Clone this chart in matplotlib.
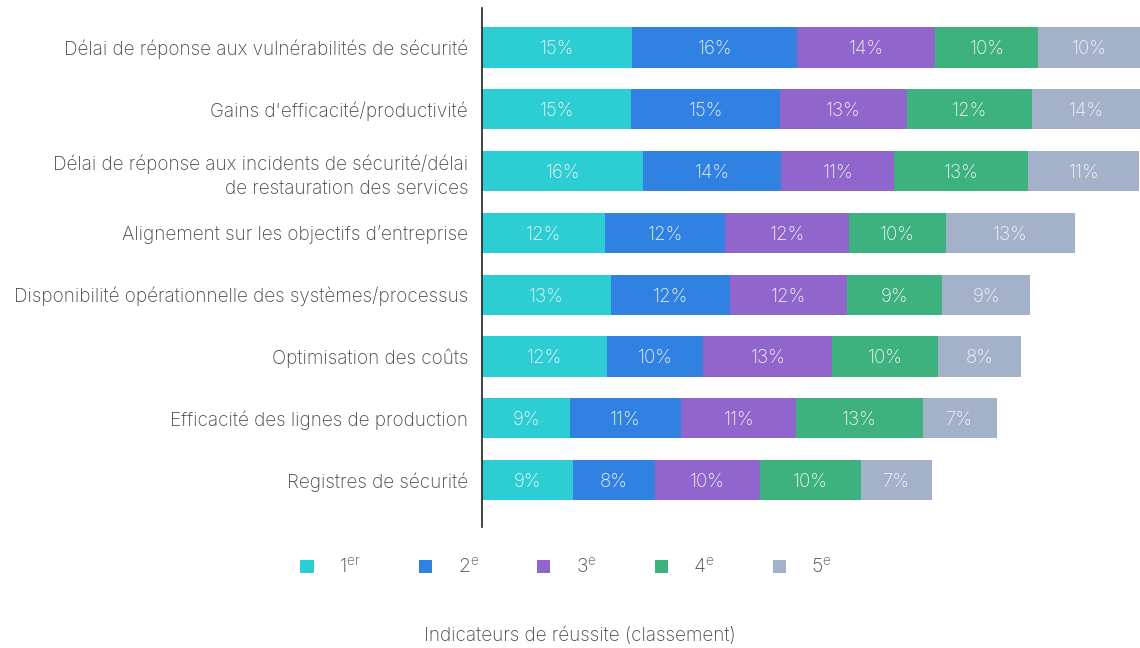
import matplotlib
matplotlib.use("Agg")
import matplotlib.pyplot as plt
import numpy as np

plt.rcParams['font.family'] = ['Inter', 'DejaVu Sans']
plt.rcParams['font.weight'] = 'light'
plt.rcParams['mathtext.fontset'] = 'custom'
plt.rcParams['mathtext.rm'] = 'Inter:light'
plt.rcParams['mathtext.it'] = 'Inter:light'

categories = [
    "Délai de réponse aux vulnérabilités de sécurité",
    "Gains d'efficacité/productivité",
    "Délai de réponse aux incidents de sécurité/délai\nde restauration des services",
    "Alignement sur les objectifs d’entreprise",
    "Disponibilité opérationnelle des systèmes/processus",
    "Optimisation des coûts",
    "Efficacité des lignes de production",
    "Registres de sécurité",
]
rank1 = [14.85, 14.77, 15.96, 12.19, 12.78, 12.40, 8.72, 9.01]
rank2 = [16.38, 14.76, 13.66, 11.89, 11.80, 9.52, 11.00, 8.13]
rank3 = [13.66, 12.55, 11.20, 12.27, 11.59, 12.77, 11.38, 10.40]
rank4 = [10.20, 12.36, 13.25, 9.60, 9.40, 10.45, 12.55, 9.99]
rank5 = [10.40, 13.80, 11.00, 12.78, 8.71, 8.22, 7.32, 7.06]
series = [rank1, rank2, rank3, rank4, rank5]
legend_labels = [r"1$^{\mathrm{er}}$", r"2$^{\mathrm{e}}$", r"3$^{\mathrm{e}}$",
                 r"4$^{\mathrm{e}}$", r"5$^{\mathrm{e}}$"]
colors = ["#2DCDD4", "#3081E2", "#9066CC", "#3DB27E", "#A3B2C8"]
xlabel = "Indicateurs de réussite (classement)"

fig = plt.figure(figsize=(11.4, 6.48), dpi=100)
ax = fig.add_axes([482/1140, 1 - 527/648, 1 - 482/1140, (527 - 8)/648])

xmax = 658 / 10.1
y = np.arange(len(categories))
left = np.zeros(len(categories))
handles = []
for vals, col, lab in zip(series, colors, legend_labels):
    vals = np.array(vals)
    bars = ax.barh(y, vals, left=left, height=0.65, color=col, label=lab, edgecolor='none')
    handles.append(bars)
    for yi, l, v in zip(y, left, vals):
        xc = (l + min(l + v, xmax)) / 2
        ax.text(xc, yi, f"{int(np.floor(v + 0.5))}%", ha='center', va='center_baseline',
                color='#F0F4FA', fontsize=13.5, fontweight='light')
    left = left + vals

ax.set_xlim(0, xmax)
ax.set_ylim(7 + 47 / 61.8, -39.5 / 61.8)
ax.set_yticks(y)
ax.set_yticklabels(categories, fontsize=13.6, color='#484848', fontweight='light')
ax.tick_params(axis='y', length=0, pad=10)
ax.set_xticks([])
for s in ['top', 'right', 'bottom']:
    ax.spines[s].set_visible(False)
ax.spines['left'].set_color('#222222')
ax.spines['left'].set_linewidth(1.2)
for t in ax.get_yticklabels():
    t.set_multialignment('right')
    t.set_linespacing(1.4)

leg = fig.legend(handles=handles, labels=legend_labels, loc='center',
                 bbox_to_anchor=(566/1140, 1 - 567/648), ncol=5, frameon=False,
                 fontsize=14, handlelength=0.68, handleheight=0.68,
                 handletextpad=1.3, columnspacing=3.0, labelcolor='#484848')

fig.text(580/1140, 1 - 636/648, xlabel, ha='center', va='center', fontsize=13.6,
         color='#484848', fontweight='light')

fig.savefig("out.png", dpi=100)
